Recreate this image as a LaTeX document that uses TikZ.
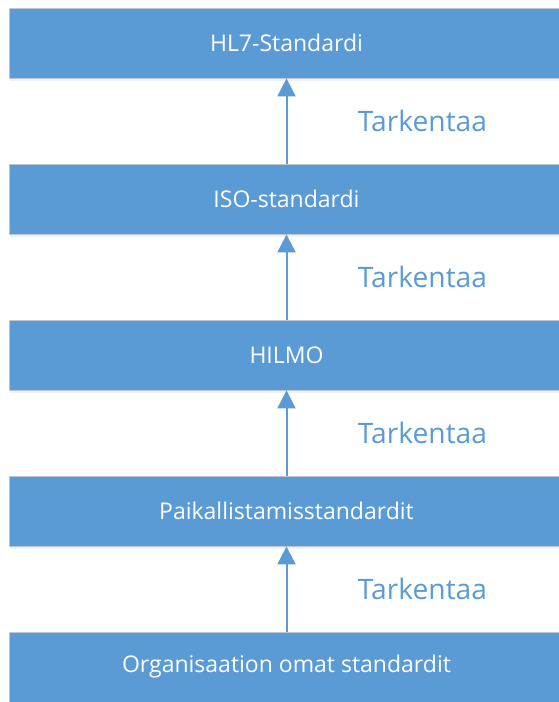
\documentclass[tikz,border=0pt]{standalone}
\usepackage{fontspec}
\setmainfont{Open Sans}
\usetikzlibrary{arrows.meta,shadows}
\definecolor{boxblue}{HTML}{5B9BD5}
\definecolor{edgegray}{HTML}{BFC6CF}
\begin{document}
\begin{tikzpicture}[x=1pt,y=-1pt,
  levelbox/.style={draw=edgegray, line width=0.8pt, fill=boxblue,
    minimum width=554pt, minimum height=70pt,
    inner sep=0pt, text=white, font=\fontsize{23}{27}\selectfont,
    drop shadow={shadow xshift=0pt, shadow yshift=-3pt, opacity=0.12, fill=boxblue}},
  refines/.style={draw=boxblue, line width=2pt,
    -{Triangle[length=18pt,width=18pt]}},
  reflabel/.style={text=boxblue, font=\fontsize{28.2}{32}\selectfont}]
\useasboundingbox (0,0) rectangle (558,702);
% the five levels, most general on top
\node[levelbox] (hl7)   at (286.5,43)  {HL7-Standardi};
\node[levelbox] (iso)   at (286.5,199) {ISO-standardi};
\node[levelbox] (hilmo) at (286.5,355) {HILMO};
\node[levelbox] (paik)  at (286.5,511) {Paikallistamisstandardit};
\node[levelbox] (org)   at (286.5,667) {Organisaation omat standardit};
% each level refines the one above it
\foreach \lo/\hi in {iso/hl7, hilmo/iso, paik/hilmo, org/paik}{
  \draw[refines] (\lo.north) -- (\hi.south);
}
\node[reflabel] (t1) at (422.5,121) {Tarkentaa};
\node[reflabel] (t2) at (422.5,277) {Tarkentaa};
\node[reflabel] (t3) at (422.5,433) {Tarkentaa};
\node[reflabel] (t4) at (422.5,589) {Tarkentaa};
\end{tikzpicture}
\end{document}
